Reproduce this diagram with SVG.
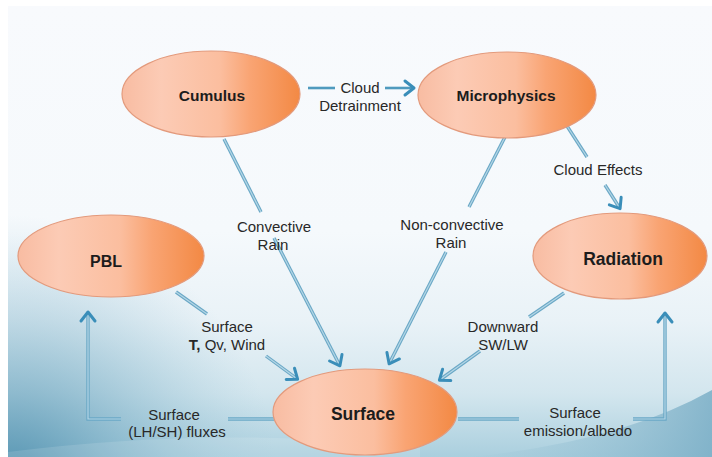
<svg xmlns="http://www.w3.org/2000/svg" width="712" height="457" viewBox="0 0 712 457">
  <defs>
    <linearGradient id="bgFade" x1="0" y1="0" x2="0" y2="1">
      <stop offset="0" stop-color="#f8fafd"/>
      <stop offset="0.5" stop-color="#f5f9fc"/>
      <stop offset="0.7" stop-color="#e9f2f7"/>
      <stop offset="0.86" stop-color="#d3e6ee"/>
      <stop offset="1" stop-color="#aacfde"/>
    </linearGradient>
    <radialGradient id="cornerWash" cx="8" cy="485" r="270" gradientUnits="userSpaceOnUse">
      <stop offset="0" stop-color="#4a8cab" stop-opacity="0.95"/>
      <stop offset="0.45" stop-color="#72a9c2" stop-opacity="0.55"/>
      <stop offset="1" stop-color="#9cc6d8" stop-opacity="0"/>
    </radialGradient>
    <linearGradient id="rightSwoosh" x1="0" y1="0" x2="1" y2="0">
      <stop offset="0" stop-color="#a6cbdb" stop-opacity="0.15"/>
      <stop offset="1" stop-color="#7aaec6" stop-opacity="0.85"/>
    </linearGradient>
    <linearGradient id="nodeFill" x1="0" y1="0" x2="1" y2="0">
      <stop offset="0" stop-color="#f8bca2"/>
      <stop offset="0.22" stop-color="#fccbb5"/>
      <stop offset="0.55" stop-color="#fbbe9f"/>
      <stop offset="0.72" stop-color="#f9a473"/>
      <stop offset="1" stop-color="#f38944"/>
    </linearGradient>
    <marker id="chevron" viewBox="-12 -10 16 20" refX="-2" refY="0" markerWidth="16" markerHeight="20" markerUnits="userSpaceOnUse" orient="auto">
      <path d="M-9,-7 L0,0 L-9,7" fill="none" stroke="#3a8eb9" stroke-width="3" stroke-linecap="round" stroke-linejoin="round"/>
    </marker>
    <style>
      .node ellipse { fill: url(#nodeFill); stroke: #e39a7c; stroke-width: 1.2; }
      .node text { font-family: "Liberation Sans", Arial, sans-serif; font-weight: bold; fill: #1c1c1c; text-anchor: middle; }
      .edge-out { fill: none; stroke: #6aa8c6; stroke-width: 3.4; }
      .edge-in { fill: none; stroke: #b4d6e6; stroke-width: 1.2; }
      .edge-solid { fill: none; stroke: #4f9abe; stroke-width: 2.6; }
      .label { font-family: "Liberation Sans", Arial, sans-serif; font-size: 15px; fill: #282828; text-anchor: middle; }
    </style>
  </defs>

  <!-- page background -->
  <rect x="0" y="0" width="712" height="457" fill="#ffffff"/>
  <rect x="8" y="6" width="704" height="451" fill="url(#bgFade)"/>
  <rect x="8" y="200" width="704" height="257" fill="url(#cornerWash)"/>
  <path d="M8,452 Q 220,425 420,448 L420,457 L8,457 Z" fill="#ffffff" fill-opacity="0.12"/>
  <path d="M470,457 Q 620,442 712,390 L712,457 Z" fill="url(#rightSwoosh)"/>

  <!-- connectors -->
  <g id="connectors">
    <!-- Cumulus to Microphysics -->
    <path class="edge-solid" d="M308,88 L335,88"/>
    <path class="edge-solid" d="M385,88 L412,88" marker-end="url(#chevron)"/>

    <!-- Cumulus to Surface: convective rain -->
    <path class="edge-out" d="M224,139 L261,212"/>
    <path class="edge-in" d="M224,139 L261,212"/>
    <path class="edge-out" d="M274,238 L339,364"/>
    <path class="edge-in" d="M274,238 L339,364" marker-end="url(#chevron)"/>

    <!-- Microphysics to Surface: non-convective rain -->
    <path class="edge-out" d="M505,137 L469,207"/>
    <path class="edge-in" d="M505,137 L469,207"/>
    <path class="edge-out" d="M446,252 L390,362"/>
    <path class="edge-in" d="M446,252 L390,362" marker-end="url(#chevron)"/>

    <!-- Microphysics to Radiation: cloud effects -->
    <path class="edge-out" d="M567,126 L587,157"/>
    <path class="edge-in" d="M567,126 L587,157"/>
    <path class="edge-out" d="M605,185 L619,207"/>
    <path class="edge-in" d="M605,185 L619,207" marker-end="url(#chevron)"/>

    <!-- PBL to Surface -->
    <path class="edge-out" d="M176,292 L207,314"/>
    <path class="edge-in" d="M176,292 L207,314"/>
    <path class="edge-out" d="M266,356 L296,378"/>
    <path class="edge-in" d="M266,356 L296,378" marker-end="url(#chevron)"/>

    <!-- Radiation to Surface -->
    <path class="edge-out" d="M564,293 L529,317"/>
    <path class="edge-in" d="M564,293 L529,317"/>
    <path class="edge-out" d="M480,351 L441,379"/>
    <path class="edge-in" d="M480,351 L441,379" marker-end="url(#chevron)"/>

    <!-- Surface to PBL: fluxes -->
    <path class="edge-out" d="M274,419 L228,419"/>
    <path class="edge-in" d="M274,419 L228,419"/>
    <path class="edge-out" d="M121,419 L88,419 L88,314"/>
    <path class="edge-in" d="M121,419 L88,419 L88,314" marker-end="url(#chevron)"/>

    <!-- Surface to Radiation: emission/albedo -->
    <path class="edge-out" d="M458,419 L519,419"/>
    <path class="edge-in" d="M458,419 L519,419"/>
    <path class="edge-out" d="M633,419 L665,419 L665,315"/>
    <path class="edge-in" d="M633,419 L665,419 L665,315" marker-end="url(#chevron)"/>
  </g>

  <!-- connector labels -->
  <g id="edge-labels">
    <text class="label" x="360" y="93">Cloud</text>
    <text class="label" x="360" y="111">Detrainment</text>
    <text class="label" x="274" y="232">Convective</text>
    <text class="label" x="273" y="250">Rain</text>
    <text class="label" x="452" y="230">Non-convective</text>
    <text class="label" x="451" y="248">Rain</text>
    <text class="label" x="598" y="175">Cloud Effects</text>
    <text class="label" x="227" y="332">Surface</text>
    <text class="label" x="227" y="350"><tspan font-weight="bold">T,</tspan> Qv, Wind</text>
    <text class="label" x="503" y="332">Downward</text>
    <text class="label" x="503" y="350">SW/LW</text>
    <text class="label" x="174" y="420">Surface</text>
    <text class="label" x="177" y="437">(LH/SH) fluxes</text>
    <text class="label" x="575" y="418">Surface</text>
    <text class="label" x="578" y="436">emission/albedo</text>
  </g>

  <!-- nodes -->
  <g id="node-cumulus" class="node">
    <ellipse cx="211" cy="94" rx="89" ry="43"/>
    <text x="212" y="101" font-size="15.5">Cumulus</text>
  </g>
  <g id="node-microphysics" class="node">
    <ellipse cx="507" cy="95" rx="89" ry="43"/>
    <text x="506" y="101" font-size="15.5">Microphysics</text>
  </g>
  <g id="node-pbl" class="node">
    <ellipse cx="111" cy="256" rx="93" ry="41"/>
    <text x="106" y="267" font-size="16">PBL</text>
  </g>
  <g id="node-radiation" class="node">
    <ellipse cx="620" cy="256" rx="87" ry="43"/>
    <text x="623" y="265" font-size="17.5">Radiation</text>
  </g>
  <g id="node-surface" class="node">
    <ellipse cx="365" cy="412" rx="92" ry="43"/>
    <text x="363" y="420" font-size="17.5">Surface</text>
  </g>
</svg>
